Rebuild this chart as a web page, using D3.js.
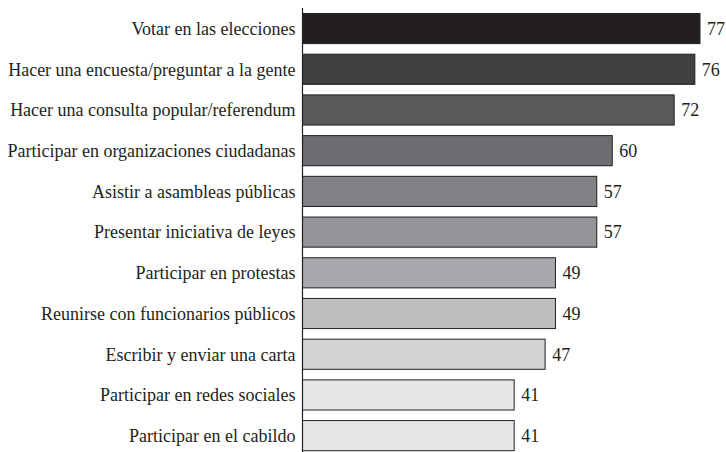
<!DOCTYPE html>
<html>
<head>
<meta charset="utf-8">
<script src="https://cdn.jsdelivr.net/npm/d3@7"></script>
<style>
  body { margin: 0; background: #fff; }
</style>
</head>
<body>
<svg id="chart"></svg>
<script>
// data
var categories = [
  "Votar en las elecciones",
  "Hacer una encuesta/preguntar a la gente",
  "Hacer una consulta popular/referendum",
  "Participar en organizaciones ciudadanas",
  "Asistir a asambleas públicas",
  "Presentar iniciativa de leyes",
  "Participar en protestas",
  "Reunirse con funcionarios públicos",
  "Escribir y enviar una carta",
  "Participar en redes sociales",
  "Participar en el cabildo"
];
var values = [77, 76, 72, 60, 57, 57, 49, 49, 47, 41, 41];
var barColors = ["#231f20", "#414042", "#58595b", "#6d6e71", "#808285", "#939598",
                 "#a7a9ac", "#bcbec0", "#d1d3d4", "#e6e7e8", "#e6e7e8"];

var width = 726, height = 452;
var fontFam = "'Liberation Serif', 'Times New Roman', 'DejaVu Serif', serif";
var svg = d3.select("#chart").attr("width", width).attr("height", height);

var x0 = 302.5;
var xScale = d3.scaleLinear().domain([0, 77]).range([x0, 700]);

var yScale = d3.scaleBand()
  .domain(categories)
  .range([8.2, 456])
  .paddingInner(0.26)
  .paddingOuter(0.13);

var rows = categories.map((c, i) => ({ name: c, value: values[i], color: barColors[i] }));

svg.selectAll("rect.bar")
  .data(rows)
  .enter()
  .append("rect")
    .classed("bar", true)
    .attr("x", x0)
    .attr("y", d => yScale(d.name))
    .attr("width", d => xScale(d.value) - x0)
    .attr("height", yScale.bandwidth())
    .attr("fill", d => d.color)
    .attr("stroke", "#231f20")
    .attr("stroke-width", 1);

// vertical axis line
svg.append("line")
  .attr("x1", x0).attr("x2", x0)
  .attr("y1", 8).attr("y2", height)
  .attr("stroke", "#231f20")
  .attr("stroke-width", 1.2);

// category labels
svg.selectAll("text.cat")
  .data(rows)
  .enter()
  .append("text")
    .classed("cat", true)
    .attr("x", x0 - 7)
    .attr("y", d => yScale(d.name) + yScale.bandwidth() / 2)
    .attr("dy", "0.35em")
    .attr("text-anchor", "end")
    .attr("font-family", fontFam)
    .attr("font-size", 18)
    .attr("fill", "#231f20")
    .text(d => d.name);

// value labels
svg.selectAll("text.val")
  .data(rows)
  .enter()
  .append("text")
    .classed("val", true)
    .attr("x", d => xScale(d.value) + 7)
    .attr("y", d => yScale(d.name) + yScale.bandwidth() / 2)
    .attr("dy", "0.35em")
    .attr("font-family", fontFam)
    .attr("font-size", 18)
    .attr("fill", "#231f20")
    .text(d => d.value);
</script>
</body>
</html>
